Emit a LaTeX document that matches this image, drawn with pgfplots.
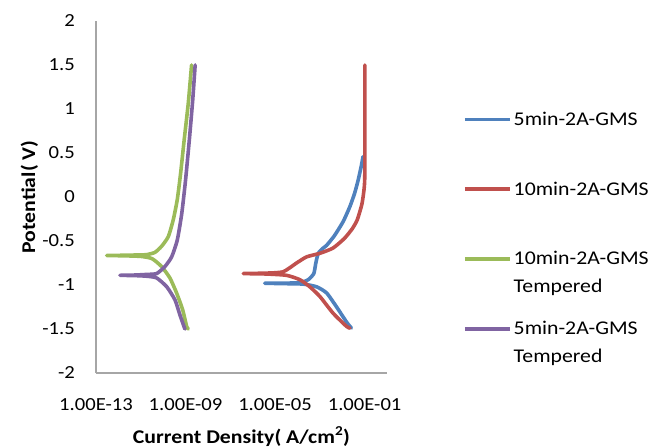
\documentclass[border=0pt]{standalone}
\usepackage{fontspec}
\setmainfont{Carlito}[FakeStretch=1.12]
\usepackage{pgfplots}
\pgfplotsset{compat=1.18}
\definecolor{cBlue}{HTML}{4F81BD}
\definecolor{cRed}{HTML}{C0504D}
\definecolor{cGreen}{HTML}{9BBB59}
\definecolor{cPurple}{HTML}{8064A2}
\definecolor{cAxis}{HTML}{A6A6A6}
\newcommand{\twoline}[2]{\rlap{\raisebox{-28bp}[0pt][0pt]{#2}}#1}

\begin{document}
\begin{tikzpicture}
\path[use as bounding box] (0,0) rectangle (654bp,448bp);
\begin{axis}[
    at={(96bp,75bp)}, anchor=south west,
    scale only axis, width=291bp, height=352bp,
    xmode=log, xmin=1e-13, xmax=1,
    ymin=-2, ymax=2,
    xtick={1e-13,1e-9,1e-5,1e-1},
    xticklabels={1.00E-13,1.00E-09,1.00E-05,1.00E-01},
    ytick={-2,-1.5,-1,-0.5,0,0.5,1,1.5,2},
    yticklabels={-2,-1.5,-1,-0.5,0,0.5,1,1.5,2},
    minor xtick={}, tick style={draw=none},
    major tick length=0pt, minor tick length=0pt,
    axis x line=bottom, axis y line=left,
    axis line style={-, draw=cAxis, line width=1.2bp},
    ticklabel style={font=\fontsize{18.5}{22}\selectfont, inner sep=0pt},
    yticklabel style={anchor=east, xshift=-21bp},
    xticklabel style={anchor=north, yshift=-25bp},
    xlabel={\textbf{Current Density( A/cm\textsuperscript{2})}},
    ylabel={\textbf{Potential( V)}},
    label style={font=\fontsize{19.5}{23}\selectfont},
    xlabel style={at={(axis description cs:0.5,0)}, anchor=base, yshift=-70bp},
    ylabel style={at={(axis description cs:-0.2096,0.5)}, anchor=base},
    every axis plot/.append style={line width=3.6bp, line join=round, line cap=round,
        no markers, smooth, tension=0.35},
    legend style={at={(axis description cs:1.261,0.748)}, anchor=north west,
        draw=none, fill=none, inner sep=0pt, row sep=51bp,
        font=\fontsize{19.5}{29}\selectfont,
        cells={anchor=west, inner sep=1bp}},
    legend image code/.code={\draw[line width=3.6bp, line cap=butt] (0bp,0bp) -- (45bp,0bp);},
]
% 5min-2A-GMS
\addplot[cBlue] coordinates {
(2.57e-2,-1.49) (1.549e-2,-1.42) (5.62e-3,-1.25) (2.0e-3,-1.09) (7.08e-4,-1.02)
(1.82e-4,-0.99) (3.16e-5,-0.985) (3.47e-6,-0.98) (3.16e-5,-0.978) (1.29e-4,-0.975)
(3.02e-4,-0.94) (5.37e-4,-0.87) (6.61e-4,-0.75) (8.51e-4,-0.64) (1.413e-3,-0.58)
(2.0e-3,-0.55) (4.47e-3,-0.44) (1.096e-2,-0.28) (2.19e-2,-0.11) (3.55e-2,0.04)
(5.13e-2,0.19) (7.08e-2,0.35) (8.51e-2,0.46)
};
\addlegendentry{5min-2A-GMS}
% 10min-2A-GMS
\addplot[cRed] coordinates {
(2.19e-2,-1.49) (1.549e-2,-1.47) (3.89e-3,-1.32) (1.0e-3,-1.13) (3.55e-4,-1.02)
(1.29e-4,-0.94) (3.24e-5,-0.89) (3.98e-6,-0.875) (3.80e-7,-0.87) (3.98e-6,-0.865)
(2.29e-5,-0.85) (9.12e-5,-0.75) (2.57e-4,-0.68) (1.0e-3,-0.64) (3.89e-3,-0.58)
(1.259e-2,-0.47) (2.82e-2,-0.36) (4.68e-2,-0.26) (7.59e-2,-0.08) (9.55e-2,0.10)
(1.023e-1,0.30) (1.023e-1,1.50)
};
\addlegendentry{10min-2A-GMS}
% 10min-2A-GMS Tempered
\addplot[cGreen] coordinates {
(1.318e-9,-1.50) (1.122e-9,-1.47) (7.41e-10,-1.28) (3.98e-10,-1.09) (2.0e-10,-0.92)
(8.51e-11,-0.79) (3.16e-11,-0.70) (1.0e-11,-0.675) (1.585e-12,-0.668) (3.02e-13,-0.665)
(1.585e-12,-0.662) (1.0e-11,-0.658) (1.82e-11,-0.655) (4.27e-11,-0.63) (8.51e-11,-0.56)
(1.70e-10,-0.45) (2.82e-10,-0.26) (4.27e-10,-0.03) (6.03e-10,0.27) (8.71e-10,0.65)
(1.318e-9,1.06) (1.862e-9,1.50)
};
\addlegendentry{\twoline{10min-2A-GMS}{Tempered}}
% 5min-2A-GMS Tempered
\addplot[cPurple] coordinates {
(9.33e-10,-1.50) (5.62e-10,-1.34) (3.39e-10,-1.17) (1.445e-10,-1.02) (5.13e-11,-0.92)
(1.82e-11,-0.90) (5.01e-12,-0.893) (1.175e-12,-0.89) (5.01e-12,-0.887) (1.82e-11,-0.88)
(5.13e-11,-0.87) (1.202e-10,-0.79) (2.40e-10,-0.68) (4.27e-10,-0.49) (6.76e-10,-0.19)
(1.0e-9,0.19) (1.479e-9,0.65) (2.09e-9,1.10) (2.69e-9,1.50)
};
\addlegendentry{\twoline{5min-2A-GMS}{Tempered}}
\end{axis}
\end{tikzpicture}
\end{document}
